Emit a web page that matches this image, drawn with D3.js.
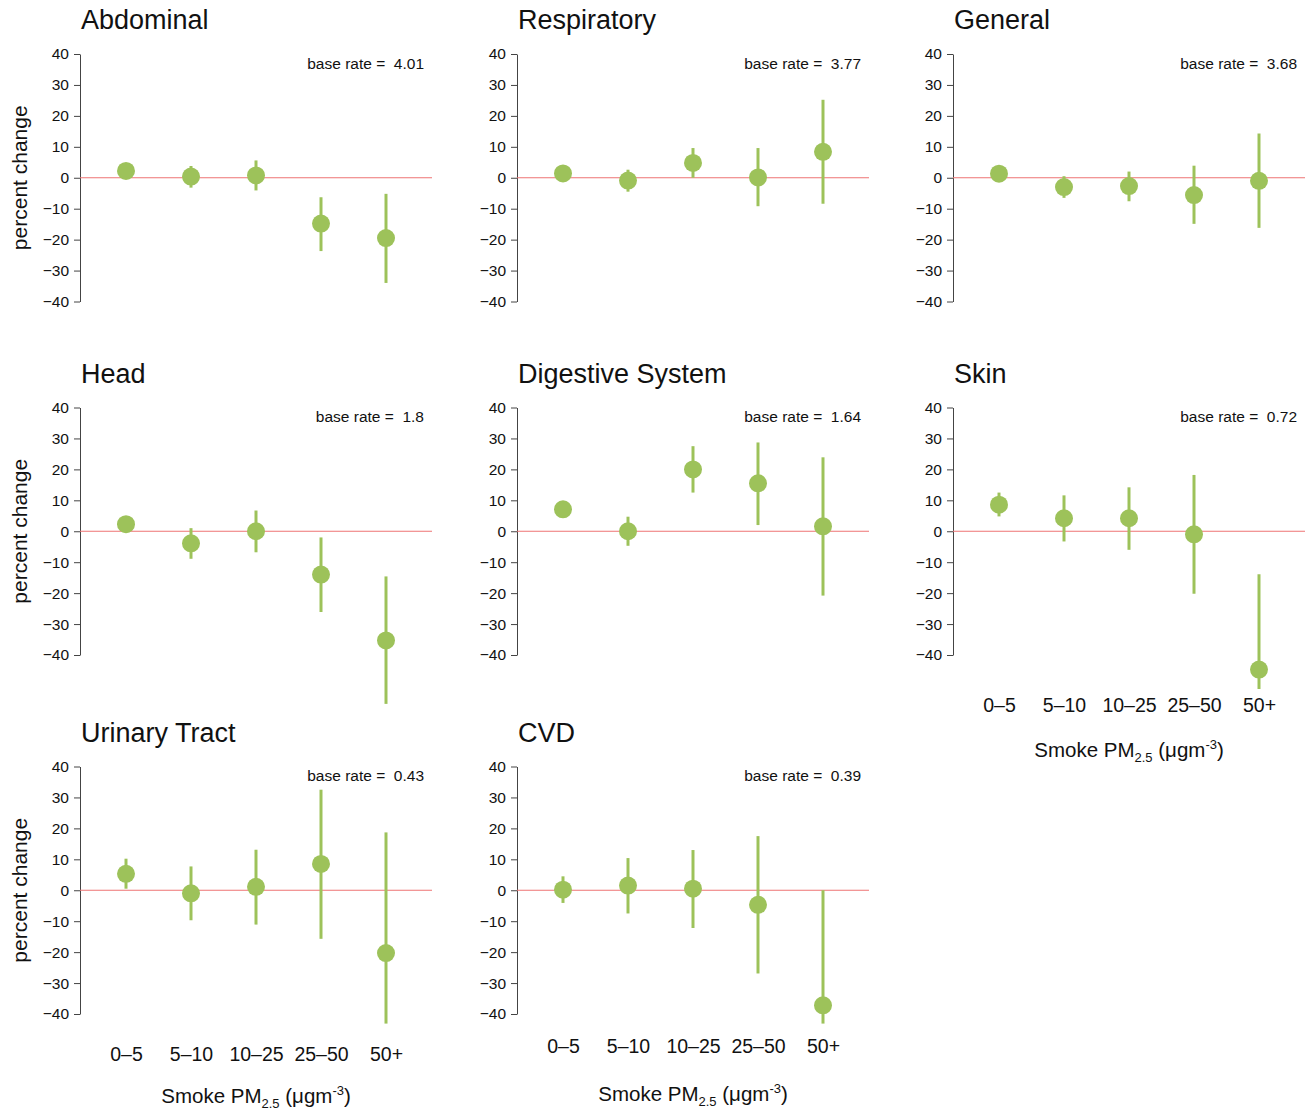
<!DOCTYPE html>
<html>
<head>
<meta charset="utf-8">
<script src="https://cdn.jsdelivr.net/npm/d3@7"></script>
<style>
body { margin: 0; background: #fff; }
text { font-family: "Liberation Sans", Arial, Helvetica, sans-serif; fill: #111; }
</style>
</head>
<body>
<div id="chart"></div>
<script>

// data

const bins = ["0–5", "5–10", "10–25", "25–50", "50+"]
const yTicks = [-40, -30, -20, -10, 0, 10, 20, 30, 40]

const outcomes = ["Abdominal", "Respiratory", "General", "Head", "Digestive System", "Skin", "Urinary Tract", "CVD"]
const baseRates = ["4.01", "3.77", "3.68", "1.8", "1.64", "0.72", "0.43", "0.39"]

const estimates = [
    [2.2, 0.4, 0.75, -14.8, -19.5],
    [1.4, -0.9, 4.8, 0.1, 8.4],
    [1.3, -3.0, -2.7, -5.6, -1.0],
    [2.3, -3.9, 0.0, -14.0, -35.3],
    [7.1, 0.0, 20.0, 15.5, 1.6],
    [8.6, 4.2, 4.2, -1.0, -44.7],
    [5.3, -1.0, 1.1, 8.5, -20.3],
    [0.2, 1.5, 0.5, -4.7, -37.2]
]
const lower = [
    [1.0, -3.2, -4.1, -23.7, -34.0],
    [0.5, -4.5, 0.0, -9.2, -8.4],
    [0.4, -6.5, -7.6, -14.9, -16.2],
    [1.2, -8.9, -6.8, -26.1, -55.8],
    [5.8, -4.7, 12.5, 2.0, -20.8],
    [4.8, -3.3, -6.0, -20.2, -51.0],
    [0.5, -9.7, -11.1, -15.7, -43.1],
    [-4.1, -7.5, -12.2, -26.9, -43.1]
]
const upper = [
    [3.4, 3.8, 5.6, -6.3, -5.2],
    [2.3, 2.6, 9.6, 9.6, 25.2],
    [2.2, 0.5, 2.0, 3.9, 14.3],
    [3.4, 1.0, 6.7, -2.0, -14.6],
    [8.4, 4.7, 27.5, 28.7, 23.9],
    [12.5, 11.6, 14.2, 18.2, -13.9],
    [10.2, 7.7, 13.1, 32.5, 18.7],
    [4.5, 10.4, 13.0, 17.5, 0.0]
]

// layout

const colX = [80, 517, 953]
const rowTop = [54, 407.5, 766.5]
const plotH = 247.5
const green = "#9dc25a"

// panels that carry the x axis: label offset below -40, title offset below labels
const xAxisPanels = {5: [57, 45], 6: [47, 42], 7: [39, 48]}

const svg = d3.select("#chart").append("svg")
    .attr("width", 1309)
    .attr("height", 1114)

outcomes.forEach((name, i) => {
    const ax = colX[i % 3]
    const top = rowTop[Math.floor(i / 3)]

    const x = d3.scalePoint()
        .domain(bins)
        .range([ax + 46, ax + 306])

    const y = d3.scaleLinear()
        .domain([-40, 40])
        .range([top + plotH, top])

    const g = svg.append("g")

    // y axis
    g.append("g")
        .attr("transform", `translate(${ax},0)`)
        .call(d3.axisLeft(y).tickValues(yTicks).tickSize(6).tickSizeOuter(0).tickPadding(5))
        .call(a => a.select(".domain").attr("stroke", "#444"))
        .call(a => a.selectAll(".tick line").attr("stroke", "#444"))
        .call(a => a.selectAll(".tick text").attr("font-size", 15.5).attr("font-family", "Liberation Sans, Arial, sans-serif").attr("fill", "#111"))

    // zero line
    g.append("line")
        .attr("x1", ax)
        .attr("x2", ax + 352)
        .attr("y1", y(0))
        .attr("y2", y(0))
        .attr("stroke", "#ee7373")
        .attr("stroke-width", 1.1)

    // title
    g.append("text")
        .attr("x", ax + 1)
        .attr("y", top - 25)
        .attr("font-size", 27)
        .text(name)

    // base rate
    g.append("text")
        .attr("x", ax + 344)
        .attr("y", top + 14.5)
        .attr("text-anchor", "end")
        .attr("font-size", 15.5)
        .style("white-space", "pre")
        .text("base rate =  " + baseRates[i])

    if (i % 3 === 0) {
        g.append("text")
            .attr("transform", `translate(${ax - 53},${y(0)}) rotate(-90)`)
            .attr("text-anchor", "middle")
            .attr("font-size", 21)
            .text("percent change")
    }

    const rows = bins.map((b, j) => ({bin: b, est: estimates[i][j], lo: lower[i][j], hi: upper[i][j]}))

    // error bars
    g.selectAll(".bar")
        .data(rows)
        .enter()
        .append("line")
        .attr("x1", d => x(d.bin))
        .attr("x2", d => x(d.bin))
        .attr("y1", d => y(d.lo))
        .attr("y2", d => y(d.hi))
        .attr("stroke", green)
        .attr("stroke-width", 3)

    // point estimates
    g.selectAll(".pt")
        .data(rows)
        .enter()
        .append("circle")
        .attr("cx", d => x(d.bin))
        .attr("cy", d => y(d.est))
        .attr("r", 9)
        .attr("fill", green)

    if (xAxisPanels[i]) {
        const [labOff, titleOff] = xAxisPanels[i]
        const base = y(-40) + labOff
        g.append("g")
            .attr("transform", `translate(0,${base - 13.8})`)
            .call(d3.axisBottom(x).tickSize(0).tickPadding(0))
            .call(a => a.select(".domain").remove())
            .call(a => a.selectAll(".tick text").attr("font-size", 19.5).attr("font-family", "Liberation Sans, Arial, sans-serif").attr("fill", "#111"))

        const t = g.append("text")
            .attr("x", ax + 176)
            .attr("y", base + titleOff)
            .attr("text-anchor", "middle")
            .attr("font-size", 20.5)
        t.append("tspan").text("Smoke PM")
        t.append("tspan").attr("font-size", 13).attr("dy", 5).text("2.5")
        t.append("tspan").attr("dy", -5).text(" (μgm")
        t.append("tspan").attr("font-size", 13).attr("dy", -8).text("-3")
        t.append("tspan").attr("dy", 8).text(")")
    }
})

</script>
</body>
</html>
